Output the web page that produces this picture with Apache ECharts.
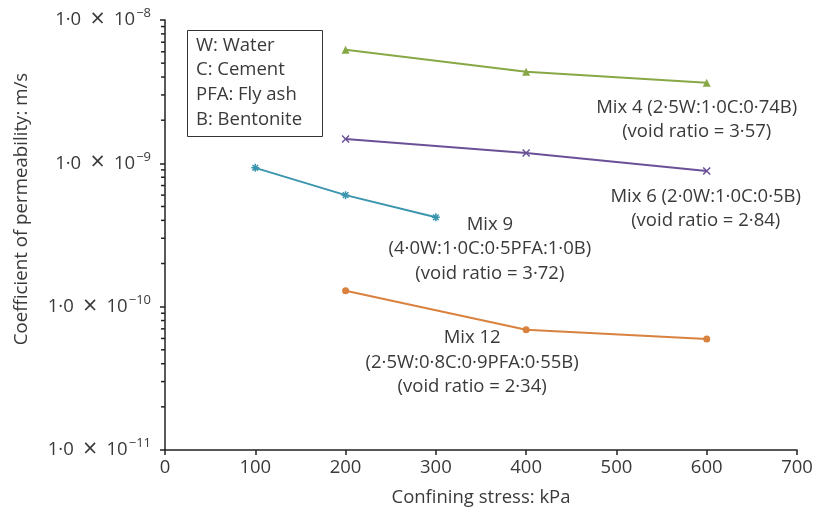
<!DOCTYPE html>
<html>
<head>
<meta charset="utf-8">
<script src="https://cdn.jsdelivr.net/npm/echarts@6/dist/echarts.min.js"></script>
<style>
  html, body { margin: 0; padding: 0; background: #ffffff; }
  #main { width: 827px; height: 513px; }
</style>
</head>
<body>
<div id="main"></div>
<script>
  // confining stress (kPa) and permeability (m/s)
  const stressMix4 = [200, 400, 600]
  const permMix4 = [6.2e-9, 4.35e-9, 3.65e-9]
  const stressMix6 = [200, 400, 600]
  const permMix6 = [1.48e-9, 1.18e-9, 8.85e-10]
  const stressMix9 = [100, 200, 300]
  const permMix9 = [9.3e-10, 6.0e-10, 4.2e-10]
  const stressMix12 = [200, 400, 600]
  const permMix12 = [1.29e-10, 6.9e-11, 5.95e-11]

  const mixLabels = {
    mix4: 'Mix 4 (2·5W:1·0C:0·74B)\n(void ratio = 3·57)',
    mix6: 'Mix 6 (2·0W:1·0C:0·5B)\n(void ratio = 2·84)',
    mix9: 'Mix 9\n(4·0W:1·0C:0·5PFA:1·0B)\n(void ratio = 3·72)',
    mix12: 'Mix 12\n(2·5W:0·8C:0·9PFA:0·55B)\n(void ratio = 2·34)',
  }
  const keyLines = ['W: Water', 'C: Cement', 'PFA: Fly ash', 'B: Bentonite']

  // minor log ticks 2..9 in each decade
  const minorMultipliers = [2, 3, 4, 5, 6, 7, 8, 9]
  const decades = [1e-11, 1e-10, 1e-9]

  const FONT = '"Open Sans", "Noto Sans", sans-serif'
  const TXT = '#3a3a3a'
  const FS = 18.5

  function makeData(xs, ys, labelIdx, text, offset) {
    return xs.map((x, i) => {
      const item = { value: [x, ys[i]] }
      if (i === labelIdx) {
        item.label = {
          show: true,
          position: 'inside',
          offset: offset,
          formatter: text,
          color: TXT,
          fontSize: FS,
          lineHeight: 24.5,
          fontFamily: FONT,
          align: 'center',
        }
      }
      return item
    })
  }

  const minorData = []
  decades.forEach((d) => {
    minorMultipliers.forEach((m) => minorData.push([0, d * m]))
  })

  const chart = echarts.init(document.getElementById('main'))
  chart.setOption({
    animation: false,
    backgroundColor: '#ffffff',
    grid: { left: 165, right: 30, top: 20, bottom: 63 },
    xAxis: {
      type: 'value',
      min: 0,
      max: 700,
      interval: 100,
      name: 'Confining stress: kPa',
      nameLocation: 'middle',
      nameGap: 38,
      nameTextStyle: { color: TXT, fontSize: FS, fontFamily: FONT },
      axisLine: { lineStyle: { color: '#222', width: 1.5 } },
      axisTick: { length: 5, lineStyle: { color: '#222', width: 1.5 } },
      axisLabel: { color: TXT, fontSize: FS, fontFamily: FONT, margin: 8 },
      splitLine: { show: false },
    },
    yAxis: {
      type: 'log',
      logBase: 10,
      min: 1e-11,
      max: 1e-8,
      axisLine: { show: true, lineStyle: { color: '#222', width: 1.5 } },
      axisTick: { show: true, length: 5, lineStyle: { color: '#222', width: 1.5 } },
      axisLabel: {
        margin: 14,
        color: TXT,
        fontSize: FS,
        fontFamily: FONT,
        formatter: function (v) {
          const e = Math.round(Math.log10(v))
          return '{b|1·0\u2002}{x|×}{b|\u200210}{s|−' + -e + '}'
        },
        rich: {
          b: { fontSize: FS, fontFamily: FONT, color: TXT, lineHeight: 26 },
          x: { fontSize: 25, fontFamily: FONT, color: TXT, lineHeight: 26 },
          s: { fontSize: 13, fontFamily: FONT, color: TXT, verticalAlign: 'top', lineHeight: 26, padding: [0, 0, 12, 1] },
        },
      },
      splitLine: { show: false },
    },
    graphic: [
      {
        type: 'text',
        x: 22,
        y: 209,
        rotation: Math.PI / 2,
        style: {
          text: 'Coefficient of permeability: m/s',
          fill: TXT,
          font: '18.7px ' + FONT,
          align: 'center',
          verticalAlign: 'middle',
        },
      },
      {
        type: 'rect',
        shape: { x: 187.5, y: 30.5, width: 135, height: 106 },
        style: { fill: '#fff', stroke: '#333', lineWidth: 1 },
      },
      {
        type: 'text',
        x: 196,
        y: 33,
        style: {
          text: keyLines.join('\n'),
          fill: TXT,
          font: '18.5px ' + FONT,
          lineHeight: 24.7,
        },
      },
    ],
    series: [
      {
        type: 'custom',
        silent: true,
        clip: false,
        data: minorData,
        renderItem: function (params, api) {
          const p = api.coord([0, api.value(1)])
          return {
            type: 'line',
            shape: { x1: p[0], y1: p[1], x2: p[0] - 4, y2: p[1] },
            style: { stroke: '#222', lineWidth: 1.5 },
          }
        },
      },
      {
        name: 'Mix 4',
        type: 'line',
        symbol: 'triangle',
        symbolSize: 8,
        color: '#86a845',
        lineStyle: { width: 2 },
        data: makeData(stressMix4, permMix4, 2, mixLabels.mix4, [-10, 37]),
      },
      {
        name: 'Mix 6',
        type: 'line',
        symbol: 'path://M0,0L10,10M10,0L0,10',
        symbolSize: 7,
        color: '#6a5096',
        itemStyle: { borderColor: '#6a5096', borderWidth: 1.5 },
        lineStyle: { width: 2 },
        data: makeData(stressMix6, permMix6, 2, mixLabels.mix6, [-1, 38]),
      },
      {
        name: 'Mix 9',
        type: 'line',
        symbol: 'path://M0,5L10,5M5,0L5,10M1.5,1.5L8.5,8.5M8.5,1.5L1.5,8.5',
        symbolSize: 8,
        color: '#3a95ad',
        itemStyle: { borderColor: '#3a95ad', borderWidth: 1.5 },
        lineStyle: { width: 2 },
        data: makeData(stressMix9, permMix9, 2, mixLabels.mix9, [54, 31.5]),
      },
      {
        name: 'Mix 12',
        type: 'line',
        symbol: 'circle',
        symbolSize: 7,
        color: '#d9813e',
        lineStyle: { width: 2 },
        data: makeData(stressMix12, permMix12, 1, mixLabels.mix12, [-54, 32.5]),
      },
    ],
  })
</script>
</body>
</html>
